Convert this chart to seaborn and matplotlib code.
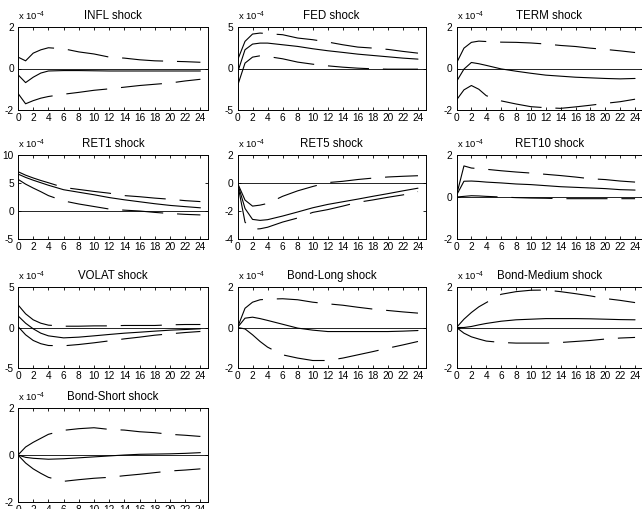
import matplotlib
matplotlib.use("Agg")
import matplotlib.pyplot as plt
import seaborn as sns

# ---------------- data (units of 1e-4) ----------------
horizons = [0, 1, 2, 3, 4, 6, 8, 10, 12, 14, 16, 18, 20, 22, 24]

titles = ["INFL shock", "FED shock", "TERM shock",
          "RET1 shock", "RET5 shock", "RET10 shock",
          "VOLAT shock", "Bond-Long shock", "Bond-Medium shock",
          "Bond-Short shock"]

infl_upper = [0.55, 0.37, 0.74, 0.9, 1.0, 0.95, 0.8, 0.7, 0.55, 0.5, 0.42, 0.37, 0.35, 0.33, 0.3]
infl_med = [-0.3, -0.68, -0.42, -0.22, -0.12, -0.1, -0.1, -0.11, -0.12, -0.12, -0.12, -0.12, -0.12, -0.12, -0.12]
infl_lower = [-1.2, -1.7, -1.55, -1.43, -1.35, -1.24, -1.15, -1.05, -0.98, -0.9, -0.82, -0.76, -0.7, -0.6, -0.52]

fed_upper = [1.0, 3.27, 4.15, 4.27, 4.2, 4.07, 3.67, 3.47, 3.19, 2.86, 2.58, 2.46, 2.3, 2.06, 1.85]
fed_med = [-0.5, 2.26, 2.94, 3.06, 3.06, 2.86, 2.66, 2.38, 2.14, 1.94, 1.73, 1.57, 1.41, 1.25, 1.13]
fed_lower = [-2.1, 0.65, 1.37, 1.53, 1.45, 1.17, 0.77, 0.52, 0.32, 0.16, 0.04, -0.04, -0.08, -0.08, -0.08]

term_upper = [0.26, 0.98, 1.26, 1.32, 1.3, 1.27, 1.26, 1.23, 1.18, 1.11, 1.06, 0.98, 0.92, 0.85, 0.77]
term_med = [-0.63, -0.03, 0.29, 0.23, 0.15, -0.02, -0.13, -0.23, -0.32, -0.37, -0.42, -0.45, -0.48, -0.5, -0.48]
term_lower = [-1.52, -1.03, -0.82, -1.0, -1.31, -1.56, -1.71, -1.84, -1.89, -1.92, -1.85, -1.77, -1.68, -1.6, -1.48]

ret1_upper = [7.02, 6.4, 5.9, 5.45, 5.05, 4.2, 3.85, 3.5, 3.18, 2.75, 2.55, 2.3, 2.1, 1.85, 1.68]
ret1_med = [6.6, 6.0, 5.5, 5.05, 4.6, 3.8, 3.35, 2.9, 2.4, 2.0, 1.65, 1.3, 1.0, 0.78, 0.57]
ret1_lower = [5.66, 4.8, 4.1, 3.45, 2.75, 1.8, 1.25, 0.8, 0.35, 0.15, 0.0, -0.25, -0.45, -0.6, -0.7]

ret5_upper = [0.0, -1.22, -1.65, -1.58, -1.46, -0.95, -0.56, -0.25, 0.03, 0.12, 0.25, 0.35, 0.43, 0.48, 0.52]
ret5_med = [0.0, -1.82, -2.6, -2.67, -2.62, -2.36, -2.07, -1.77, -1.53, -1.34, -1.15, -0.95, -0.76, -0.56, -0.37]
ret5_lower = [0.0, -2.8, -3.3, -3.27, -3.16, -2.79, -2.5, -2.1, -1.9, -1.65, -1.38, -1.21, -1.02, -0.85, -0.61]

ret10_upper = [0.08, 1.48, 1.38, 1.35, 1.32, 1.25, 1.19, 1.14, 1.08, 1.02, 0.95, 0.87, 0.83, 0.76, 0.71]
ret10_med = [0.08, 0.75, 0.76, 0.74, 0.71, 0.67, 0.62, 0.59, 0.54, 0.49, 0.46, 0.43, 0.4, 0.35, 0.33]
ret10_lower = [0.0, 0.03, 0.06, 0.05, 0.03, 0.0, -0.03, -0.05, -0.06, -0.08, -0.08, -0.08, -0.08, -0.08, -0.08]

volat_upper = [2.8, 1.69, 0.95, 0.53, 0.29, 0.16, 0.16, 0.2, 0.2, 0.25, 0.25, 0.25, 0.33, 0.37, 0.37]
volat_med = [1.44, 0.53, -0.16, -0.7, -1.03, -1.28, -1.19, -1.03, -0.86, -0.7, -0.58, -0.45, -0.33, -0.25, -0.16]
volat_lower = [0.12, -0.9, -1.6, -2.0, -2.22, -2.26, -2.1, -1.89, -1.65, -1.4, -1.19, -0.95, -0.78, -0.62, -0.49]

blong_upper = [0.0, 0.95, 1.25, 1.37, 1.4, 1.42, 1.37, 1.25, 1.17, 1.1, 1.0, 0.91, 0.84, 0.77, 0.71]
blong_med = [0.0, 0.46, 0.51, 0.44, 0.35, 0.16, -0.03, -0.13, -0.2, -0.2, -0.2, -0.2, -0.2, -0.18, -0.15]
blong_lower = [0.0, -0.07, -0.36, -0.69, -0.97, -1.35, -1.51, -1.63, -1.63, -1.51, -1.35, -1.19, -1.02, -0.86, -0.69]

bmed_upper = [0.0, 0.41, 0.74, 1.02, 1.23, 1.64, 1.77, 1.84, 1.85, 1.77, 1.67, 1.56, 1.43, 1.34, 1.23]
bmed_med = [0.0, 0.0, 0.05, 0.13, 0.2, 0.31, 0.38, 0.41, 0.44, 0.44, 0.44, 0.43, 0.41, 0.39, 0.38]
bmed_lower = [0.0, -0.28, -0.46, -0.57, -0.67, -0.74, -0.77, -0.77, -0.77, -0.74, -0.69, -0.64, -0.57, -0.52, -0.49]

bshort_upper = [0.0, 0.34, 0.54, 0.71, 0.88, 1.05, 1.12, 1.16, 1.09, 1.06, 0.99, 0.95, 0.88, 0.84, 0.79]
bshort_med = [0.0, -0.1, -0.14, -0.16, -0.18, -0.16, -0.12, -0.08, -0.04, 0.0, 0.03, 0.04, 0.05, 0.07, 0.1]
bshort_lower = [0.0, -0.34, -0.59, -0.78, -0.95, -1.12, -1.05, -0.99, -0.95, -0.88, -0.82, -0.75, -0.68, -0.64, -0.59]

ylims = [(-2, 2), (-5, 5), (-2, 2), (-5, 10), (-4, 2), (-2, 2), (-5, 5), (-2, 2), (-2, 2), (-2, 2)]
yticks = [[-2, 0, 2], [-5, 0, 5], [-2, 0, 2], [-5, 0, 5, 10], [-4, -2, 0, 2],
          [-2, 0, 2], [-5, 0, 5], [-2, 0, 2], [-2, 0, 2], [-2, 0, 2]]
xticks = list(range(0, 25, 2))

series = [
    (infl_upper, infl_med, infl_lower),
    (fed_upper, fed_med, fed_lower),
    (term_upper, term_med, term_lower),
    (ret1_upper, ret1_med, ret1_lower),
    (ret5_upper, ret5_med, ret5_lower),
    (ret10_upper, ret10_med, ret10_lower),
    (volat_upper, volat_med, volat_lower),
    (blong_upper, blong_med, blong_lower),
    (bmed_upper, bmed_med, bmed_lower),
    (bshort_upper, bshort_med, bshort_lower),
]

# ---------------- style ----------------
sns.set_theme(style="ticks")
plt.rcParams['font.family'] = ['Liberation Sans', 'DejaVu Sans']
plt.rcParams['mathtext.default'] = 'regular'
plt.rcParams['axes.unicode_minus'] = False
plt.rcParams['xtick.direction'] = 'in'
plt.rcParams['ytick.direction'] = 'in'
plt.rcParams['xtick.top'] = True
plt.rcParams['ytick.right'] = True
plt.rcParams['axes.edgecolor'] = 'black'
plt.rcParams['axes.linewidth'] = 0.7

W, H = 642, 509
fig = plt.figure(figsize=(W / 100, H / 100), dpi=100)
fig.patch.set_facecolor('white')

col_left = [18, 237.5, 456.5]
col_width = [190, 188, 186]
row_top = [27, 155, 287, 408]
row_h = [83, 84, 81, 94]

dash = (0, (37, 12.5))

for i, (title, (up, md, lo)) in enumerate(zip(titles, series)):
    r, c = divmod(i, 3)
    l = col_left[c] / W
    b = 1 - (row_top[r] + row_h[r]) / H
    ax = fig.add_axes([l, b, col_width[c] / W, row_h[r] / H])
    ax.set_facecolor('white')
    ax.axhline(0, color='black', lw=0.6, zorder=1)
    sns.lineplot(x=horizons, y=md, ax=ax, color='black', lw=0.8, estimator=None)
    sns.lineplot(x=horizons, y=up, ax=ax, color='black', lw=0.8, estimator=None, linestyle=dash)
    sns.lineplot(x=horizons, y=lo, ax=ax, color='black', lw=0.8, estimator=None, linestyle=dash)
    ax.set_xlim(0, 25)
    ax.set_ylim(*ylims[i])
    ax.set_xticks(xticks)
    ax.set_yticks(yticks[i])
    ax.tick_params(axis='both', length=2.5, width=0.6, labelsize=7.3, colors='black')
    ax.tick_params(axis='x', pad=2.5)
    ax.tick_params(axis='y', pad=3)
    for s in ax.spines.values():
        s.set_color('black')
        s.set_linewidth(0.7)
    ax.set_title(title, fontsize=8.3, pad=5.5, color='black')
    ax.annotate(r"x 10$^{-4}$", xy=(0, 1), xycoords='axes fraction',
                xytext=(0, 5), textcoords='offset points',
                ha='left', va='baseline', fontsize=6.8, color='black')
    ax.set_xlabel('')
    ax.set_ylabel('')

fig.savefig("out.png", dpi=100, facecolor='white')
